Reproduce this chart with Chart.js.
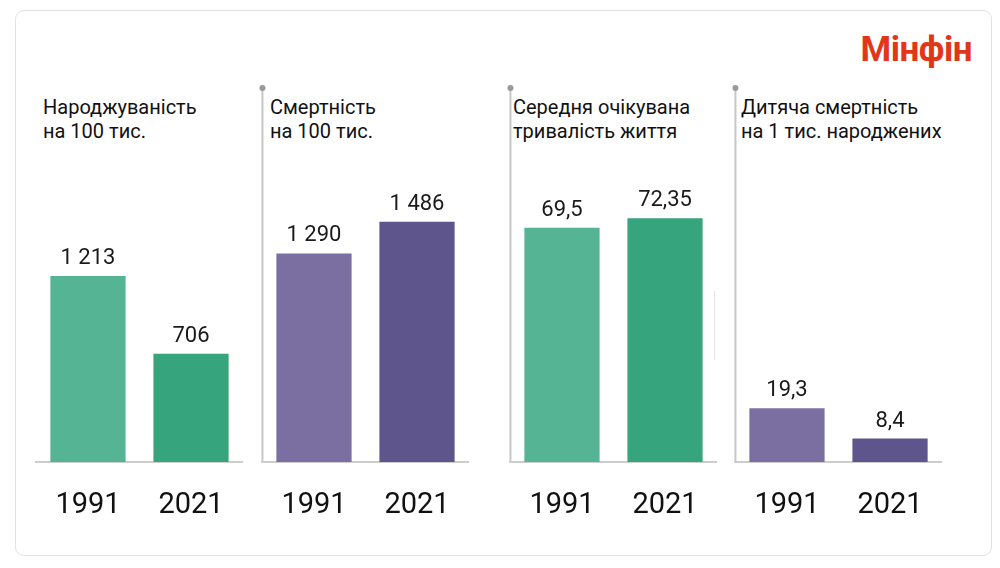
<!DOCTYPE html>
<html>
<head>
  <meta charset="UTF-8">
  <title>Мінфін: 1991 vs 2021</title>
  <script src="https://cdn.jsdelivr.net/npm/chart.js"></script>
  <style>
    html, body { margin: 0; padding: 0; background: #fff; }
    body { width: 1000px; height: 568px; position: relative; overflow: hidden; font-family: Roboto, Arial, sans-serif; }
    .card { position: absolute; left: 15px; top: 10px; width: 977px; height: 546px; border: 1px solid #e2e2e2; border-radius: 9px; box-sizing: border-box; }
    .logo { position: absolute; right: 28px; top: 32px; font: bold 35px Roboto, sans-serif; line-height: 35px; color: #e2361b; letter-spacing: -0.5px; }
    .title { position: absolute; top: 95px; font-size: 20px; line-height: 24px; color: #111; white-space: nowrap; }
    .panel { position: absolute; top: 80px; width: 223px; height: 480px; }
    .faint { position: absolute; left: 714px; top: 291px; width: 1px; height: 69px; background: #e6e6e6; }
  </style>
</head>
<body>
  <div class="card"></div>
  <div class="logo">Мінфін</div>
  <div class="faint"></div>

  <script>
    const years = ["1991", "2021"];
    const titles = [
      ["Народжуваність", "на 100 тис."],
      ["Смертність", "на 100 тис."],
      ["Середня очікувана", "тривалість життя"],
      ["Дитяча смертність", "на 1 тис. народжених"]
    ];
    const birthRate = [1213, 706];
    const deathRate = [1290, 1486];
    const lifeExpectancy = [69.5, 72.35];
    const infantMortality = [19.3, 8.4];

    const green = ["#55b493", "#36a47c"];
    const purple = ["#7a6fa0", "#5e558c"];

    // left edge of each panel's plot area, top of y axis
    const panels = [
      { data: birthRate, colors: green, left: 34, yMax: 2035, sep: false, titleX: 43 },
      { data: deathRate, colors: purple, left: 260, yMax: 1930, sep: true, titleX: 270 },
      { data: lifeExpectancy, colors: green, left: 508, yMax: 92.6, sep: true, titleX: 513 },
      { data: infantMortality, colors: purple, left: 733, yMax: 112, sep: true, titleX: 741 }
    ];

    function fmt(v) {
      const parts = String(v).split(".");
      parts[0] = parts[0].replace(/\B(?=(\d{3})+(?!\d))/g, "\u00a0");
      return parts.join(",");
    }

    const valueLabels = {
      id: "valueLabels",
      afterDatasetsDraw(chart) {
        const ctx = chart.ctx;
        const meta = chart.getDatasetMeta(0);
        ctx.save();
        ctx.font = "22px Roboto";
        ctx.fillStyle = "#1a1a1a";
        ctx.textAlign = "center";
        ctx.textBaseline = "alphabetic";
        meta.data.forEach((bar, i) => {
          ctx.fillText(fmt(chart.data.datasets[0].data[i]), bar.x, bar.y - 12);
        });
        ctx.restore();
      }
    };

    const separator = {
      id: "separator",
      beforeDraw(chart, args, opts) {
        if (!opts.show) return;
        const ctx = chart.ctx;
        const x = chart.chartArea.left;
        ctx.save();
        ctx.strokeStyle = "#c6c6c6";
        ctx.lineWidth = 2;
        ctx.beginPath();
        ctx.moveTo(x, 8);
        ctx.lineTo(x, chart.chartArea.bottom);
        ctx.stroke();
        ctx.fillStyle = "#9a9a9a";
        ctx.beginPath();
        ctx.arc(x, 8, 3, 0, Math.PI * 2);
        ctx.fill();
        ctx.restore();
      }
    };

    panels.forEach((p, i) => {
      const t = document.createElement("div");
      t.className = "title";
      t.style.left = p.titleX + "px";
      t.innerHTML = titles[i].join("<br>");
      document.body.appendChild(t);

      const box = document.createElement("div");
      box.className = "panel";
      box.style.left = (p.left - 6) + "px";
      const canvas = document.createElement("canvas");
      box.appendChild(canvas);
      document.body.appendChild(box);

      new Chart(canvas, {
        type: "bar",
        data: {
          labels: years,
          datasets: [{
            data: p.data,
            backgroundColor: p.colors,
            barPercentage: 0.73,
            categoryPercentage: 1
          }]
        },
        options: {
          responsive: true,
          maintainAspectRatio: false,
          animation: false,
          events: [],
          layout: { padding: { top: 70, left: 6, right: 6, bottom: 10.2 } },
          plugins: {
            legend: { display: false },
            tooltip: { enabled: false },
            separator: { show: p.sep }
          },
          scales: {
            x: {
              grid: { display: false, drawTicks: false },
              border: { display: true, color: "#cdcdcd", width: 2 },
              ticks: { color: "#111", font: { family: "Roboto", size: 29 }, padding: 26.5 }
            },
            y: { display: false, min: 0, max: p.yMax }
          }
        },
        plugins: [valueLabels, separator]
      });
    });
  </script>
</body>
</html>
